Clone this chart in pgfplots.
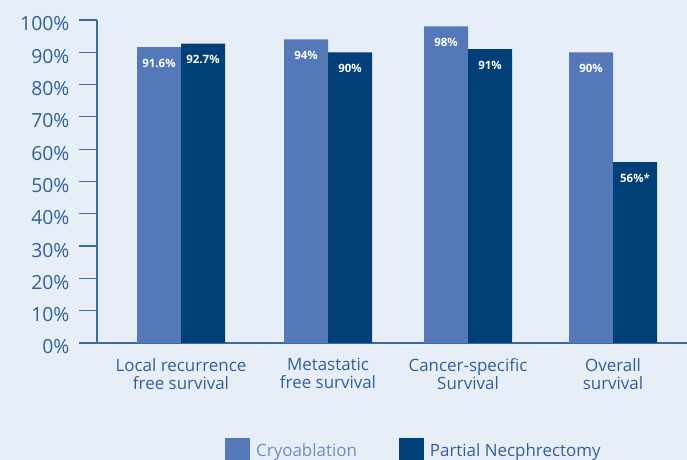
\documentclass[border=0pt]{standalone}
\usepackage{fontspec}
\setmainfont{Open Sans}
\usepackage{pgfplots}
\pgfplotsset{compat=1.18}
\definecolor{bg}{HTML}{E8EEF8}
\definecolor{lightbar}{HTML}{5578B9}
\definecolor{darkbar}{HTML}{003F78}
\definecolor{textc}{HTML}{2F6198}
\definecolor{axisc}{HTML}{3C6C9E}
\definecolor{legc}{HTML}{6A8FC6}
\begin{document}
\begin{tikzpicture}[x=1bp,y=1bp]
\path[use as bounding box, fill=bg] (0,0) rectangle (687,460);
\begin{axis}[
  at={(97bp,117bp)}, anchor=south west,
  scale only axis, width=590bp, height=323bp,
  xmin=97, xmax=687, ymin=0, ymax=100, enlargelimits=false,
  axis x line=bottom, axis y line=left,
  axis line style={-, color=axisc, line width=1.2bp},
  ytick={0,10,...,100},
  yticklabels={0\%,10\%,20\%,30\%,40\%,50\%,60\%,70\%,80\%,90\%,100\%},
  yticklabel style={font=\fontsize{19.5}{22}\selectfont, text=textc, xshift=-6bp, yshift=-4bp},
  tick align=outside, major tick length=18bp,
  ytick style={color=axisc, line width=1.2bp},
  xtick={181,328,468,613},
  xticklabels={{Local recurrence\\free survival},{Metastatic\\free survival},{Cancer-specific\\Survival},{Overall\\survival}},
  xticklabel style={align=center, font=\fontsize{17}{18}\selectfont, text=textc, yshift=6bp},
  xtick style={draw=none},
  ybar, bar width=44bp,
  point meta=explicit symbolic,
  nodes near coords,
  every node near coord/.append style={anchor=center, yshift=-16bp, text=white, font=\fontsize{11.5}{13}\selectfont\bfseries},
  legend style={at={(0.2169,-0.2941)}, anchor=north west, draw=none, fill=none, inner sep=0pt,
    legend columns=2, font=\fontsize{17}{20}\selectfont,
    /tikz/every odd column/.append style={column sep=6bp},
    /tikz/every even column/.append style={column sep=42bp},
    nodes={inner sep=0pt, text depth=0pt}},
]
\addplot[fill=lightbar, draw=none, bar shift=-22bp,
  legend image code/.code={\fill[lightbar] (0bp,-13bp) rectangle (25bp,12bp);}]
  coordinates {(181,91.6) [91.6\%] (328,94) [94\%] (468,98) [98\%] (613,90) [90\%]};
\addplot[fill=darkbar, draw=none, bar shift=22bp,
  legend image code/.code={\fill[darkbar] (0bp,-13bp) rectangle (25bp,12bp);}]
  coordinates {(181,92.7) [92.7\%] (328,90) [90\%] (468,91) [91\%] (613,56) [56\%*]};
\legend{\textcolor{legc}{Cryoablation},\textcolor{textc}{Partial Necphrectomy}}
\end{axis}
\end{tikzpicture}
\end{document}
